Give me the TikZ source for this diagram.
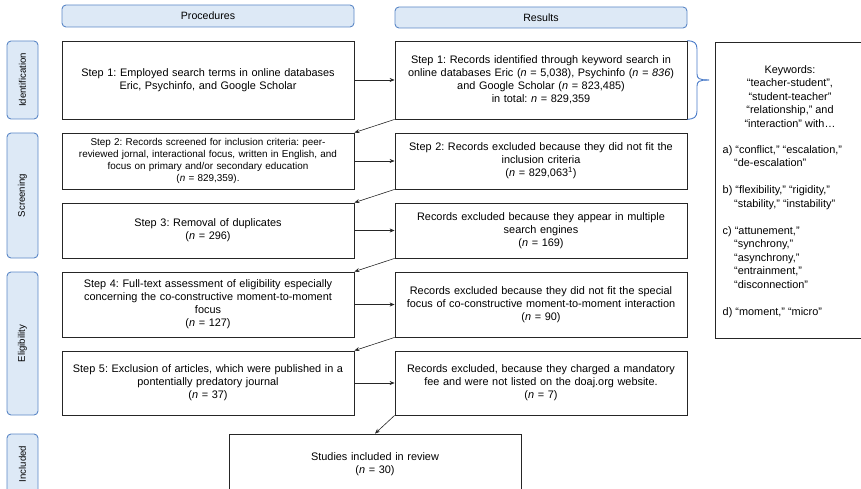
\documentclass[tikz,border=0pt]{standalone}
\usepackage{fontspec}
\setmainfont{Liberation Sans}
\usetikzlibrary{arrows.meta}
\definecolor{hdrfill}{HTML}{DDE9F6}
\definecolor{hdrline}{HTML}{5B87C6}
\definecolor{bracecol}{HTML}{4A7BC8}
\frenchspacing
\begin{document}
\frenchspacing
\begin{tikzpicture}[x=1pt,y=-1pt,
  box/.style={draw=black!85,line width=0.8pt,fill=white,inner sep=2pt,align=center,font=\fontsize{10.9}{13}\selectfont},
  lbox/.style={box,minimum width=292pt,text width=288pt},
  hdr/.style={draw=hdrline,line width=0.9pt,fill=hdrfill,rounded corners=4pt,minimum width=292pt,font=\fontsize{10.6}{12}\selectfont,inner sep=0pt},
  side/.style={draw=hdrline,line width=0.9pt,fill=hdrfill,rounded corners=4pt,minimum height=31pt,rotate=90,font=\fontsize{9.6}{11}\selectfont,inner sep=0pt},
  arr/.style={draw=black!85,line width=0.6pt,-{Stealth[length=5pt,width=4pt]}}
]
\useasboundingbox (0,0) rectangle (861,489);
% headers
\node[hdr,minimum height=22pt] (hp) at (208,16) {Procedures};
\node[hdr,minimum height=21pt] (hr) at (541,17.5) {Results};
% side labels
\node[side,minimum width=78pt] (sid) at (22.5,80) {Identification};
\node[side,minimum width=125pt] (ssc) at (22.5,195.5) {Screening};
\node[side,minimum width=143pt] (sel) at (22.5,343.5) {Eligibility};
\node[side,minimum width=60pt] (sin) at (22.5,464) {Included};
% left column
\node[lbox,minimum height=78pt] (L1) at (208,80) {Step 1: Employed search terms in online databases\\Eric, Psychinfo, and Google Scholar};
\node[lbox,minimum height=56pt,font=\fontsize{9.9}{12}\selectfont] (L2) at (208,161) {Step 2: Records screened for inclusion criteria: peer-\\reviewed jornal, interactional focus, written in English, and\\focus on primary and/or secondary education\\(\textit{n} = 829,359).};
\node[lbox,minimum height=55pt] (L3) at (208,230.5) {Step 3: Removal of duplicates\\(\textit{n} = 296)};
\node[lbox,minimum height=65pt] (L4) at (208,304.5) {Step 4: Full-text assessment of eligibility especially\\concerning the co-constructive moment-to-moment\\focus\\(\textit{n} = 127)};
\node[lbox,minimum height=64pt] (L5) at (208,383) {Step 5: Exclusion of articles, which were published in a\\pontentially predatory journal\\(\textit{n} = 37)};
% right column
\node[lbox,minimum height=78pt] (R1) at (541,80) {Step 1: Records identified through keyword search in\\online databases Eric (\textit{n} = 5,038), Psychinfo (\textit{n = 836})\\and Google Scholar (\textit{n} = 823,485)\\in total: \textit{n} = 829,359};
\node[lbox,minimum height=56pt] (R2) at (541,161) {Step 2: Records excluded because they did not fit the\\inclusion criteria\\(\textit{n} = 829,063\textsuperscript{1})};
\node[lbox,minimum height=55pt] (R3) at (541,230.5) {Records excluded because they appear in multiple\\search engines\\(\textit{n} = 169)};
\node[lbox,minimum height=65pt] (R4) at (541,304.5) {Records excluded because they did not fit the special\\focus of co-constructive moment-to-moment interaction\\(\textit{n} = 90)};
\node[lbox,minimum height=64pt] (R5) at (541,383) {Records excluded, because they charged a mandatory\\fee and were not listed on the doaj.org website.\\(\textit{n} = 7)};
% final
\node[lbox,minimum height=60pt] (F) at (375,464) {Studies included in review\\(\textit{n} = 30)};
% keywords box
\node[box,anchor=north west,minimum width=160pt,minimum height=296pt] (K) at (715,42) {};
\node[align=center,inner sep=0pt,font=\fontsize{10.9}{13.5}\selectfont,anchor=north] (Kh) at (790,65) {Keywords:\\“teacher-student”,\\“student-teacher”\\“relationship,” and\\“interaction” with…};
\node[align=left,inner sep=0pt,font=\fontsize{10.9}{13.5}\selectfont,anchor=north west] (Kl) at (722.5,145) {a) “conflict,” “escalation,”\\\hspace*{11.5pt}“de-escalation”\\[13.5pt]b) “flexibility,” “rigidity,”\\\hspace*{11.5pt}“stability,” “instability”\\[13.5pt]c) “attunement,”\\\hspace*{11.5pt}“synchrony,”\\\hspace*{11.5pt}“asynchrony,”\\\hspace*{11.5pt}“entrainment,”\\\hspace*{11.5pt}“disconnection”\\[13.5pt]d) “moment,” “micro”};
% brace
\coordinate (b1) at (R1.north east);
\coordinate (b2) at (R1.south east);
\draw[bracecol,line width=0.9pt] (b1) .. controls (694,41) and (697,43) .. (697,49) -- (697,74) .. controls (697,78.5) and (699,80) .. (709,80);
\draw[bracecol,line width=0.9pt] (709,80) .. controls (699,80) and (697,81.5) .. (697,86) -- (697,111) .. controls (697,117) and (694,119) .. (b2);
% arrows
\draw[arr] (L1.east) -- (R1.west);
\draw[arr] (L2.east) -- (R2.west);
\draw[arr] (L3.east) -- (R3.west);
\draw[arr] (L4.east) -- (R4.west);
\draw[arr] (L5.east) -- (R5.west);
\draw[arr] (R1.south west) -- (L2.north east);
\draw[arr] (R2.south west) -- (L3.north east);
\draw[arr] (R3.south west) -- (L4.north east);
\draw[arr] (R4.south west) -- (L5.north east);
\draw[arr] (R5.south west) -- (F.north);
\end{tikzpicture}
\end{document}
